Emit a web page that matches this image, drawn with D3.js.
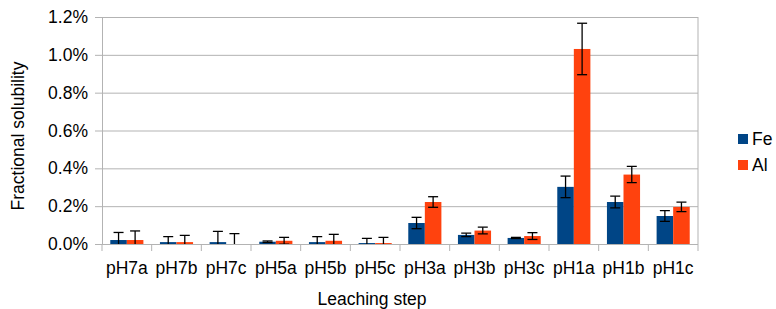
<!DOCTYPE html>
<html>
<head>
<meta charset="utf-8">
<script src="https://cdn.jsdelivr.net/npm/d3@7"></script>
<style>
    body { margin: 0; background: #fff; }
    svg { display: block; font-family: "Liberation Sans", Arial, sans-serif; }
</style>
</head>
<body>
<svg id="chart" width="776" height="309"></svg>
<script>
// leaching steps along the x axis
var categories = ['pH7a', 'pH7b', 'pH7c', 'pH5a', 'pH5b', 'pH5c',
                  'pH3a', 'pH3b', 'pH3c', 'pH1a', 'pH1b', 'pH1c'];
var seriesNames = ['Fe', 'Al'];
var seriesColors = ['#004586', '#ff420e'];

// fractional solubility, in percent
var feValues = [0.021, 0.010, 0.010, 0.012, 0.010, 0.005, 0.111, 0.048, 0.032, 0.302, 0.222, 0.148];
var alValues = [0.021, 0.010, 0.000, 0.017, 0.017, 0.005, 0.222, 0.071, 0.042, 1.031, 0.367, 0.196];
// error bar half widths, in percent
var feErrors = [0.040, 0.029, 0.057, 0.004, 0.029, 0.025, 0.030, 0.009, 0.003, 0.057, 0.031, 0.028];
var alErrors = [0.048, 0.036, 0.055, 0.018, 0.034, 0.030, 0.028, 0.018, 0.018, 0.136, 0.043, 0.025];

var yTicks = [0, 0.2, 0.4, 0.6, 0.8, 1.0, 1.2];

(function () {
    var svg = d3.select('#chart'),
        plotLeft = 102, plotRight = 698, plotTop = 17, plotBottom = 244,
        grey = '#b3b3b3',
        font = '17.5px';

    var x = d3.scaleBand().domain(categories).range([plotLeft, plotRight]),
        xs = d3.scaleBand().domain(seriesNames).range([0, x.bandwidth()]).paddingOuter(0.5),
        y = d3.scaleLinear().domain([0, 1.2]).range([plotBottom, plotTop]),
        color = d3.scaleOrdinal().domain(seriesNames).range(seriesColors);

    var rows = categories.map(function (c, i) {
        return {
            cat: c,
            bars: [
                {name: 'Fe', value: feValues[i], err: feErrors[i]},
                {name: 'Al', value: alValues[i], err: alErrors[i]}
            ]
        };
    });

    // horizontal gridlines with small outside ticks
    var yAxis = svg.append('g')
        .attr('transform', 'translate(' + plotLeft + ',0)')
        .call(d3.axisLeft(y).tickValues(yTicks)
            .tickSize(-(plotRight - plotLeft)).tickSizeOuter(0)
            .tickFormat(function (d) { return d.toFixed(1) + '%'; }));
    yAxis.select('.domain').attr('stroke', grey);
    yAxis.selectAll('.tick line').attr('stroke', grey).attr('x1', -7);
    yAxis.selectAll('.tick text')
        .attr('x', -14)
        .style('font-size', font)
        .attr('fill', '#000');

    // right border of plot
    svg.append('line')
        .attr('x1', plotRight).attr('x2', plotRight)
        .attr('y1', plotTop).attr('y2', plotBottom + 7)
        .attr('stroke', grey);

    // category boundary ticks below the axis
    svg.append('g').selectAll('line')
        .data(categories)
        .join('line')
        .attr('x1', function (d) { return x(d); })
        .attr('x2', function (d) { return x(d); })
        .attr('y1', plotBottom).attr('y2', plotBottom + 7)
        .attr('stroke', grey);

    svg.append('g').selectAll('text')
        .data(categories)
        .join('text')
        .attr('x', function (d) { return x(d) + x.bandwidth() / 2; })
        .attr('y', 274)
        .attr('text-anchor', 'middle')
        .style('font-size', font)
        .text(function (d) { return d; });

    // bars
    var groups = svg.append('g').selectAll('g')
        .data(rows)
        .join('g')
        .attr('transform', function (d) { return 'translate(' + x(d.cat) + ',0)'; });

    groups.selectAll('rect')
        .data(function (d) { return d.bars; })
        .join('rect')
        .attr('x', function (d) { return xs(d.name); })
        .attr('width', xs.bandwidth())
        .attr('y', function (d) { return y(d.value); })
        .attr('height', function (d) { return plotBottom - y(d.value); })
        .attr('fill', function (d) { return color(d.name); });

    // error bars, clipped at the axis
    svg.append('clipPath').attr('id', 'plot')
        .attr('clipPathUnits', 'userSpaceOnUse')
        .append('rect')
        .attr('x', -50).attr('y', 0)
        .attr('width', 1000).attr('height', plotBottom);

    var errs = groups.selectAll('g.err')
        .data(function (d) { return d.bars; })
        .join('g')
        .attr('class', 'err')
        .attr('clip-path', 'url(#plot)')
        .attr('stroke', '#000')
        .attr('stroke-width', 1.3);

    errs.append('line')
        .attr('x1', function (d) { return xs(d.name) + xs.bandwidth() / 2; })
        .attr('x2', function (d) { return xs(d.name) + xs.bandwidth() / 2; })
        .attr('y1', function (d) { return y(d.value + d.err); })
        .attr('y2', function (d) { return y(d.value - d.err); });

    [1, -1].forEach(function (sign) {
        errs.append('line')
            .attr('x1', function (d) { return xs(d.name) + xs.bandwidth() / 2 - 5; })
            .attr('x2', function (d) { return xs(d.name) + xs.bandwidth() / 2 + 5; })
            .attr('y1', function (d) { return y(d.value + sign * d.err); })
            .attr('y2', function (d) { return y(d.value + sign * d.err); });
    });

    // axis titles
    svg.append('text')
        .attr('transform', 'translate(24,136)rotate(-90)')
        .attr('text-anchor', 'middle')
        .style('font-size', font)
        .text('Fractional solubility');

    svg.append('text')
        .attr('x', 372).attr('y', 305)
        .attr('text-anchor', 'middle')
        .style('font-size', font)
        .text('Leaching step');

    // legend
    var legend = svg.append('g').selectAll('g')
        .data(seriesNames)
        .join('g')
        .attr('transform', function (d, i) { return 'translate(738,' + (134 + i * 26) + ')'; });

    legend.append('rect')
        .attr('width', 10).attr('height', 10)
        .attr('fill', function (d) { return color(d); });

    legend.append('text')
        .attr('x', 14).attr('y', 11)
        .style('font-size', font)
        .text(function (d) { return d; });
}());
</script>
</body>
</html>
